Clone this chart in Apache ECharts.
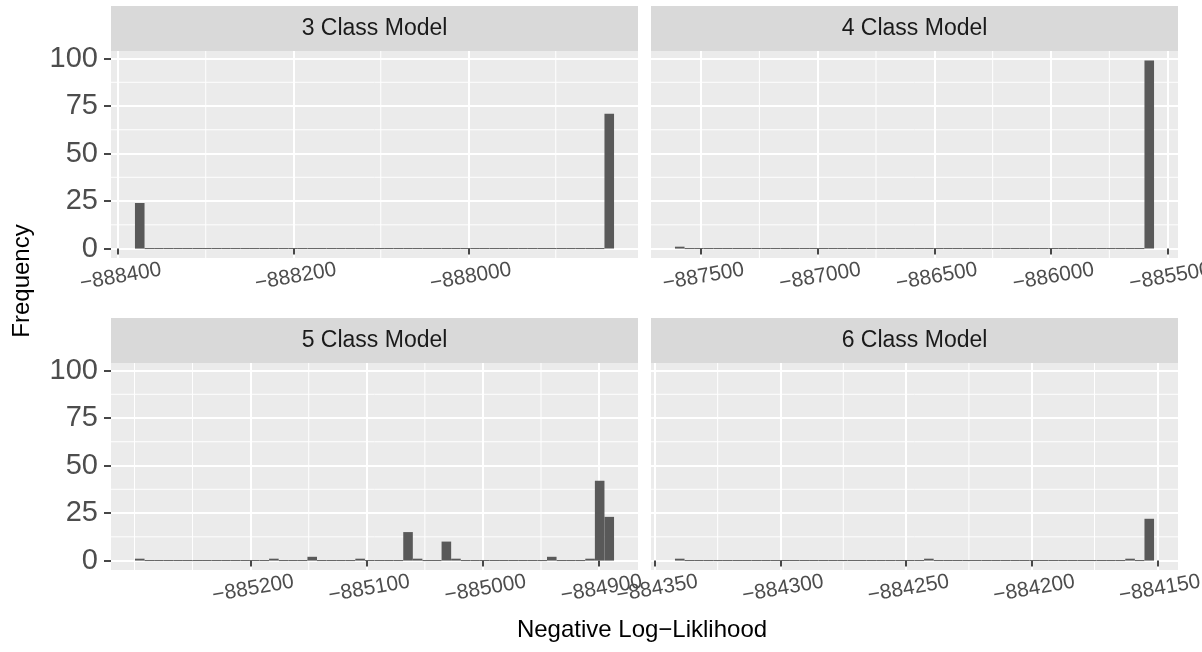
<!DOCTYPE html>
<html>
<head>
<meta charset="utf-8">
<script src="https://cdn.jsdelivr.net/npm/echarts@6/dist/echarts.min.js"></script>
<style>
  html, body { margin: 0; background: #ffffff; }
  #chart { width: 1202px; height: 652px; }
</style>
</head>
<body>
<div id="chart"></div>
<script>
// histogram counts, 50 bins per model
var counts3 = [24,0,0,0,0,0,0,0,0,0, 0,0,0,0,0,0,0,0,0,0, 0,0,0,0,0,0,0,0,0,0, 0,0,0,0,0,0,0,0,0,0, 0,0,0,0,0,0,0,0,0,71];
var counts4 = [1,0,0,0,0,0,0,0,0,0, 0,0,0,0,0,0,0,0,0,0, 0,0,0,0,0,0,0,0,0,0, 0,0,0,0,0,0,0,0,0,0, 0,0,0,0,0,0,0,0,0,99];
var counts5 = [1,0,0,0,0,0,0,0,0,0, 0,0,0,0,1,0,0,0,2,0, 0,0,0,1,0,0,0,0,15,1, 0,0,10,1,0,0,0,0,0,0, 0,0,0,2,0,0,0,1,42,23];
var counts6 = [1,0,0,0,0,0,0,0,0,0, 0,0,0,0,0,0,0,0,0,0, 0,0,0,0,0,0,1,0,0,0, 0,0,0,0,0,0,0,0,0,0, 0,0,0,0,0,0,0,1,0,22];

var panelTitles = ['3 Class Model', '4 Class Model', '5 Class Model', '6 Class Model'];
var binStarts = [-888380.9, -887611.8, -885299.6, -884342.0];
var binWidths = [10.95, 41.07, 8.25, 3.814];

var xBreaks = [
  [-888400, -888200, -888000],
  [-887500, -887000, -886500, -886000, -885500],
  [-885200, -885100, -885000, -884900],
  [-884350, -884300, -884250, -884200, -884150]
];
var xMinor = [
  [-888300, -888100, -887900],
  [-887250, -886750, -886250, -885750],
  [-885300, -885250, -885150, -885050, -884950],
  [-884325, -884275, -884225, -884175]
];
var yBreaks = [0, 25, 50, 75, 100];
var yMinor = [12.5, 37.5, 62.5, 87.5];
var yRange = [-4.95, 103.95];

var allCounts = [counts3, counts4, counts5, counts6];

var grids = [
  { left: 111, top: 51, width: 527, height: 207 },
  { left: 651, top: 51, width: 527, height: 207 },
  { left: 111, top: 363, width: 527, height: 207 },
  { left: 651, top: 363, width: 527, height: 207 }
];

var FONT = '"Liberation Sans", Arial, sans-serif';

function fmt(v) {
  return v < 0 ? '\u2212' + Math.abs(v) : String(v);
}

function renderBin(params, api) {
  var p0 = api.coord([api.value(0), 0]);
  var p1 = api.coord([api.value(1), api.value(2)]);
  var h = p0[1] - p1[1];
  var y = p1[1];
  if (h < 1) { h = 1; y = p0[1] - 0.5; }
  return {
    type: 'rect',
    shape: { x: p0[0], y: y, width: p1[0] - p0[0], height: h },
    style: { fill: '#595959' }
  };
}

// thin white minor grid lines, drawn under the bars
function renderMinorX(params, api) {
  var cs = params.coordSys;
  var x = api.coord([api.value(0), 0])[0];
  return { type: 'line', shape: { x1: x, y1: cs.y, x2: x, y2: cs.y + cs.height }, style: { stroke: '#ffffff', lineWidth: 1 } };
}
function renderMinorY(params, api) {
  var cs = params.coordSys;
  var y = api.coord([0, api.value(1)])[1];
  return { type: 'line', shape: { x1: cs.x, y1: y, x2: cs.x + cs.width, y2: y }, style: { stroke: '#ffffff', lineWidth: 1 } };
}

var chart = echarts.init(document.getElementById('chart'));

var xAxes = [], yAxes = [], series = [], graphics = [];

for (var i = 0; i < 4; i++) {
  var ext = binWidths[i] * allCounts[i].length;
  var xMin = binStarts[i] - 0.05 * ext;
  xAxes.push({
    type: 'value',
    gridIndex: i,
    min: xMin,
    max: binStarts[i] + 1.05 * ext,
    axisLine: { show: false },
    axisTick: { show: true, length: 6, customValues: xBreaks[i], lineStyle: { color: '#333333', width: 1.8 } },
    axisLabel: {
      customValues: xBreaks[i], formatter: fmt, rotate: 10, align: 'center', verticalAlign: 'middle',
      margin: 19, color: '#4D4D4D', fontSize: 21, fontFamily: FONT, padding: [0, 0, 0, 5],
      hideOverlap: false
    },
    splitLine: { show: true, lineStyle: { color: '#ffffff', width: 2 } }
  });
  var left = (i % 2 === 0);
  yAxes.push({
    type: 'value',
    gridIndex: i,
    min: yRange[0],
    max: yRange[1],
    axisLine: { show: false },
    axisTick: { show: left, length: 7, customValues: yBreaks, lineStyle: { color: '#333333', width: 1.8 } },
    axisLabel: { show: left, customValues: yBreaks, margin: 13, color: '#4D4D4D', fontSize: 29, fontFamily: FONT },
    splitLine: { show: true, lineStyle: { color: '#ffffff', width: 2 } }
  });

  series.push({
    type: 'custom',
    xAxisIndex: i,
    yAxisIndex: i,
    z: 1,
    silent: true,
    renderItem: renderMinorX,
    data: xMinor[i].map(function (v) { return [v, 0]; })
  });
  series.push({
    type: 'custom',
    xAxisIndex: i,
    yAxisIndex: i,
    z: 1,
    silent: true,
    renderItem: renderMinorY,
    data: yMinor.map(function (v) { return [xMin, v]; })
  });

  var bins = allCounts[i].map(function (c, k) {
    return [binStarts[i] + k * binWidths[i], binStarts[i] + (k + 1) * binWidths[i], c];
  });
  series.push({
    type: 'custom',
    xAxisIndex: i,
    yAxisIndex: i,
    z: 3,
    renderItem: renderBin,
    encode: { x: [0, 1], y: 2 },
    data: bins
  });

  // facet strip
  var g = grids[i];
  graphics.push({
    type: 'rect',
    shape: { x: g.left, y: g.top - 45, width: g.width, height: 45 },
    style: { fill: '#D9D9D9' },
    silent: true
  });
  graphics.push({
    type: 'text',
    x: g.left + g.width / 2,
    y: g.top - 22.5,
    style: {
      text: panelTitles[i], fill: '#1A1A1A', font: '23px ' + FONT,
      textAlign: 'center', textVerticalAlign: 'middle'
    },
    silent: true
  });
}

graphics.push({
  type: 'text',
  x: 22, y: 281,
  rotation: Math.PI / 2,
  style: { text: 'Frequency', fill: '#000000', font: '24px ' + FONT, textAlign: 'center', textVerticalAlign: 'middle' },
  silent: true
});
graphics.push({
  type: 'text',
  x: 642, y: 630,
  style: { text: 'Negative Log\u2212Liklihood', fill: '#000000', font: '24px ' + FONT, textAlign: 'center', textVerticalAlign: 'middle' },
  silent: true
});

var option = {
  backgroundColor: '#ffffff',
  animation: false,
  grid: grids.map(function (g) {
    return {
      left: g.left, top: g.top, width: g.width, height: g.height,
      containLabel: false, outerBoundsMode: 'none',
      show: true, backgroundColor: '#EBEBEB', borderWidth: 0
    };
  }),
  xAxis: xAxes,
  yAxis: yAxes,
  series: series,
  graphic: graphics
};

option && chart.setOption(option);
</script>
</body>
</html>
